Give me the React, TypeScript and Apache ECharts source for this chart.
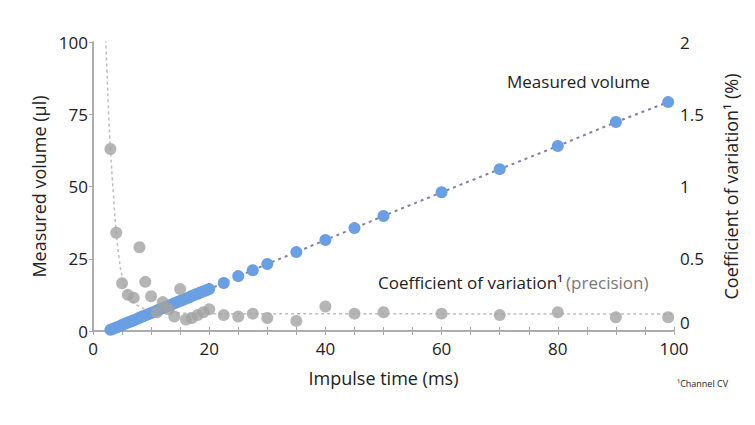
import React, { useEffect, useRef } from "react";
import * as echarts from "echarts";

// Measured volume (µl) vs impulse time (ms)
const blueTimes = [
  3, 3.5, 4, 4.5, 5, 5.5, 6, 6.5, 7, 7.5, 8, 8.5, 9, 9.5, 10, 10.5, 11, 11.5,
  12, 12.5, 13, 13.5, 14, 14.5, 15, 15.5, 16, 16.5, 17, 17.5, 18, 18.5, 19,
  19.5, 20, 22.5, 25, 27.5, 30, 35, 40, 45, 50, 60, 70, 80, 90, 99,
];
const blueVolumes = [
  0.4, 0.8, 1.2, 1.6, 2.1, 2.5, 2.9, 3.3, 3.7, 4.1, 4.6, 5.0, 5.4, 5.8, 6.2,
  6.6, 7.1, 7.5, 7.9, 8.3, 8.7, 9.1, 9.6, 10.0, 10.4, 10.8, 11.2, 11.6, 12.1,
  12.5, 12.9, 13.3, 13.7, 14.1, 14.5, 16.6, 19.0, 21.0, 23.2, 27.3, 31.5, 35.6,
  39.8, 48.0, 56.0, 64.0, 72.3, 79.2,
];

// Coefficient of variation (%) vs impulse time (ms)
const grayTimes = [
  3, 4, 5, 6, 7, 8, 9, 10, 11, 12, 13, 14, 15, 16, 17, 18, 19, 20, 22.5, 25,
  27.5, 30, 35, 40, 45, 50, 60, 70, 80, 90, 99,
];
const grayCV = [
  1.26, 0.68, 0.33, 0.25, 0.23, 0.58, 0.34, 0.24, 0.13, 0.2, 0.15, 0.1, 0.29,
  0.08, 0.09, 0.11, 0.13, 0.15, 0.11, 0.1, 0.12, 0.09, 0.07, 0.17, 0.12, 0.13,
  0.12, 0.11, 0.13, 0.095, 0.095,
];

// CV trend curve
const trendTimes = [2.1, 2.4, 2.7, 3, 3.5, 4, 4.5, 5, 5.5, 6, 7, 8, 10, 15, 20, 100];
const trendCV = [2.1, 1.8, 1.5, 1.26, 0.95, 0.68, 0.5, 0.38, 0.31, 0.26, 0.2, 0.17, 0.14, 0.125, 0.12, 0.118];

const FONT = "'Open Sans', 'Noto Sans', sans-serif";
const AXIS_COLOR = "#a8a8a8";
const TEXT_COLOR = "#222222";

export default function App() {
  const ref = useRef<HTMLDivElement>(null);

  useEffect(() => {
    if (!ref.current) return;
    const chart = echarts.init(ref.current, undefined, { renderer: "svg" });

    const lineCommon = {
      axisLine: { show: true, lineStyle: { color: AXIS_COLOR, width: 1.5 } },
      splitLine: { show: false },
    };
    const insideTick = { show: true, inside: true, length: 4, lineStyle: { color: AXIS_COLOR } };

    chart.setOption({
      animation: false,
      backgroundColor: "#ffffff",
      textStyle: { fontFamily: FONT },
      grid: { left: 93, right: 81, top: 42, bottom: 94, containLabel: false },
      xAxis: [
        {
          type: "value",
          min: 0,
          max: 100,
          interval: 20,
          position: "bottom",
          ...lineCommon,
          axisTick: insideTick,
          minorTick: { show: true, splitNumber: 4, length: 4, lineStyle: { color: AXIS_COLOR } },
          axisLabel: { color: TEXT_COLOR, fontSize: 17, margin: 9, fontFamily: FONT },
          name: "Impulse time (ms)",
          nameLocation: "middle",
          nameGap: 38,
          nameTextStyle: { color: TEXT_COLOR, fontSize: 18, fontFamily: FONT },
        },
        {
          type: "value",
          min: 0,
          max: 100,
          interval: 20,
          position: "top",
          ...lineCommon,
          axisTick: insideTick,
          minorTick: { show: true, splitNumber: 4, length: 4, lineStyle: { color: AXIS_COLOR } },
          axisLabel: { show: false },
        },
      ],
      yAxis: [
        {
          type: "value",
          min: 0,
          max: 100,
          interval: 25,
          position: "left",
          ...lineCommon,
          axisTick: { show: true, inside: false, length: 3, lineStyle: { color: AXIS_COLOR } },
          axisLabel: { color: TEXT_COLOR, fontSize: 17, margin: 5, fontFamily: FONT },
          name: "Measured volume (µl)",
          nameLocation: "middle",
          nameGap: 44,
          nameTextStyle: { color: TEXT_COLOR, fontSize: 18, fontFamily: FONT },
        },
        {
          type: "value",
          min: 0,
          max: 2,
          interval: 0.5,
          position: "right",
          ...lineCommon,
          axisTick: insideTick,
          axisLabel: {
            color: TEXT_COLOR,
            fontSize: 17,
            margin: 6,
            fontFamily: FONT,
            verticalAlignMinLabel: "bottom",
            formatter: (v: number) => String(v),
          },
          name: "Coefficient of variation¹ (%)",
          nameLocation: "middle",
          nameGap: 48,
          nameRotate: 90,
          nameTextStyle: { color: TEXT_COLOR, fontSize: 18, fontFamily: FONT },
        },
      ],
      series: [
        {
          type: "line",
          name: "CV trend",
          xAxisIndex: 0,
          yAxisIndex: 1,
          data: trendTimes.map((t, i) => [t, trendCV[i]]),
          smooth: true,
          showSymbol: false,
          clip: true,
          lineStyle: { color: "#bdbdbd", width: 1.5, type: [3, 3] },
          z: 1,
        },
        {
          type: "line",
          name: "Measured volume",
          xAxisIndex: 0,
          yAxisIndex: 0,
          data: blueTimes.map((t, i) => [t, blueVolumes[i]]),
          symbol: "circle",
          symbolSize: 12,
          showSymbol: true,
          itemStyle: { color: "#6a9fe3" },
          lineStyle: { color: "#8080a4", width: 2, type: [3, 4] },
          z: 2,
        },
        {
          type: "scatter",
          name: "Coefficient of variation",
          xAxisIndex: 0,
          yAxisIndex: 1,
          data: grayTimes.map((t, i) => [t, grayCV[i]]),
          symbol: "circle",
          symbolSize: 12,
          itemStyle: { color: "#a2a2a2" },
          z: 3,
        },
      ],
      graphic: [
        {
          type: "text",
          left: 507,
          top: 73,
          style: { text: "Measured volume", fill: TEXT_COLOR, fontSize: 17, fontFamily: FONT },
        },
        {
          type: "text",
          left: 378,
          top: 274,
          style: {
            text: "{a|Coefficient of variation¹} {b|(precision)}",
            fontFamily: FONT,
            rich: {
              a: { fill: TEXT_COLOR, fontSize: 17, fontFamily: FONT },
              b: { fill: "#777777", fontSize: 17, fontFamily: FONT },
            },
          },
        },
        {
          type: "text",
          left: 677,
          top: 379,
          style: { text: "¹Channel CV", fill: TEXT_COLOR, fontSize: 9, fontFamily: FONT },
        },
      ],
    });

    return () => chart.dispose();
  }, []);

  return (
    <div
      ref={ref}
      style={{ position: "fixed", left: 0, top: 0, width: 755, height: 425, background: "#fff" }}
    />
  );
}
